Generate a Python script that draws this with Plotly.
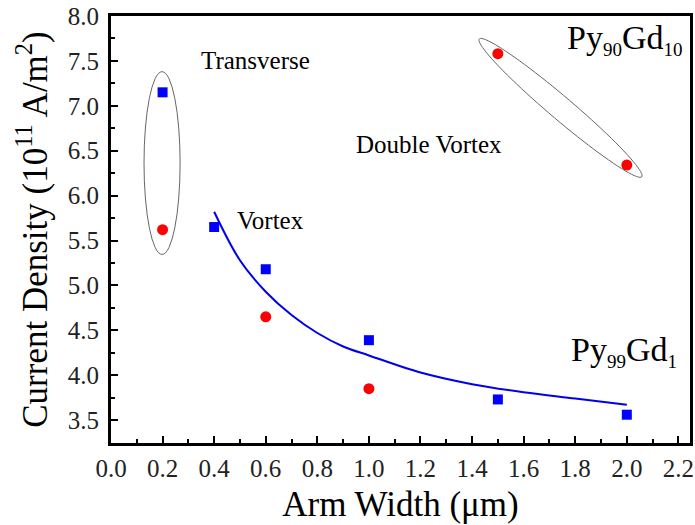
import numpy as np
import plotly.graph_objects as go

# ---- data ----
py99_x = [0.2, 0.4, 0.6, 1.0, 1.5, 2.0]
py99_y = [7.15, 5.65, 5.18, 4.39, 3.73, 3.56]

py90_x = [0.2, 0.6, 1.0, 1.5, 2.0]
py90_y = [5.62, 4.65, 3.85, 7.58, 6.34]

fit_x = [0.4, 0.5, 0.6, 0.7, 0.8, 0.9, 1.0, 1.2, 1.4, 1.6, 1.8, 2.0]
fit_y = [5.82, 5.28, 4.93, 4.67, 4.47, 4.32, 4.22, 4.03, 3.90, 3.81, 3.74, 3.67]

x_range = [0.0, 2.245]
y_range = [3.245, 8.0]

FONT = "Liberation Serif, Times New Roman, serif"

W, H = 695, 525
ML, MR, MT, MB = 111, 5, 16, 82
px_per_x = (W - ML - MR) / (x_range[1] - x_range[0])
px_per_y = (H - MT - MB) / (y_range[1] - y_range[0])

fig = go.Figure()

fig.add_trace(go.Scatter(
    x=fit_x, y=fit_y, mode="lines", line=dict(color="#0000EE", width=2, shape="spline"),
    showlegend=False, hoverinfo="skip"))
fig.add_trace(go.Scatter(
    x=py99_x, y=py99_y, mode="markers",
    marker=dict(symbol="square", size=10, color="#0000FF"), showlegend=False))
fig.add_trace(go.Scatter(
    x=py90_x, y=py90_y, mode="markers",
    marker=dict(symbol="circle", size=11, color="#FF0000"), showlegend=False))

# vertical ellipse around the 0.2 pair
fig.add_shape(type="circle", xref="x", yref="y",
              x0=0.128, x1=0.268, y0=5.345, y1=7.38,
              line=dict(color="#666666", width=1))

# rotated ellipse around the Py90Gd10 pair
cx, cy = 1.743, 6.977
a_px, b_px, ang = 106.5, 11.5, np.deg2rad(40.3)
t = np.linspace(0, 2 * np.pi, 90)
dx = a_px * np.cos(t) * np.cos(ang) - b_px * np.sin(t) * np.sin(ang)
dy = a_px * np.cos(t) * np.sin(ang) + b_px * np.sin(t) * np.cos(ang)
ex = cx + dx / px_per_x
ey = cy - dy / px_per_y
path = "M " + " L ".join(f"{xx:.5f},{yy:.5f}" for xx, yy in zip(ex, ey)) + " Z"
fig.add_shape(type="path", xref="x", yref="y", path=path,
              line=dict(color="#666666", width=1))

def ann(x, y, text, size, xanchor="center"):
    fig.add_annotation(x=x, y=y, xref="x", yref="y", text=text, showarrow=False,
                       xanchor=xanchor, yanchor="middle",
                       font=dict(family=FONT, size=size, color="black"))

def chem(a, na, b, nb):
    s = "font-size:19px"
    return (f"{a}<sub><span style='{s}'>{na}</span></sub>"
            f"{b}<sub><span style='{s}'>{nb}</span></sub>")

ann(0.562, 7.51, "Transverse", 25)
ann(0.618, 5.72, "Vortex", 25)
ann(1.234, 6.57, "Double Vortex", 25)
ann(1.762, 7.74, chem("Py", "90", "Gd", "10"), 34, xanchor="left")
ann(1.775, 4.26, chem("Py", "99", "Gd", "1"), 34, xanchor="left")

axis_common = dict(
    showline=True, linewidth=3, linecolor="black", mirror=True,
    ticks="inside", tickwidth=2, tickcolor="black",
    showgrid=False, zeroline=False,
    tickfont=dict(family=FONT, size=25, color="#222222"),
    tickformat=".1f",
)

fig.update_xaxes(range=x_range, tick0=0, dtick=0.2, ticklen=7,
                 minor=dict(ticks="inside", dtick=0.1, ticklen=4, tickwidth=2, tickcolor="black"),
                 title=dict(text="Arm Width (\u03bcm)", font=dict(family=FONT, size=35, color="black"),
                            standoff=11),
                 ticklabelstandoff=1,
                 **axis_common)
fig.update_yaxes(range=y_range, tick0=3.5, dtick=0.5, ticklen=7,
                 minor=dict(ticks="inside", dtick=0.25, ticklen=4, tickwidth=2, tickcolor="black"),
                 title=dict(text="Current Density (10<sup>11</sup> A/m<sup>2</sup>)",
                            font=dict(family=FONT, size=35, color="black"), standoff=10),
                 ticklabelstandoff=4,
                 **axis_common)

fig.update_layout(
    width=W, height=H,
    margin=dict(l=ML, r=MR, t=MT, b=MB, autoexpand=False),
    plot_bgcolor="white", paper_bgcolor="white",
    font=dict(family=FONT),
)

fig.write_html("out.html", config={"displayModeBar": False},
               post_script="document.body.style.margin='0';")
